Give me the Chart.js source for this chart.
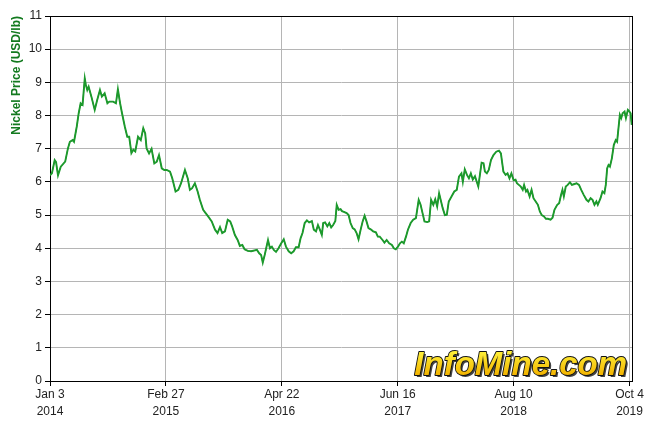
<!doctype html>
<html>

<head>
  <meta charset="utf-8">
  <style>
    body { margin: 0; background: #fff; }
  </style>
</head>

<body>
  <canvas id="nickelChart" width="652" height="433"></canvas>

  <script src="https://cdn.jsdelivr.net/npm/chart.js"></script>
  <script>
    // days after Jan 3 2014
    var days = [0, 7, 17, 22, 26, 29, 39, 55, 65, 72, 82, 87, 97, 104, 111, 118, 126, 130, 135, 140,
      150, 162, 171, 181, 188, 198, 208, 215, 222, 229, 239, 246, 254, 261, 271, 280, 287, 295, 302, 309,
      319, 329, 338, 345, 350, 359, 368, 378, 387, 395, 405, 414, 423, 435, 443, 455, 465, 475, 489, 499,
      507, 515, 525, 535, 543, 555, 564, 573, 586, 598, 607, 616, 624, 634, 644, 653, 660, 670, 680, 688,
      697, 705, 717, 729, 750, 758, 765, 771, 778, 782, 790, 797, 804, 811, 819, 828, 838, 847, 855, 865,
      874, 883, 891, 901, 908, 915, 923, 931, 939, 949, 956, 964, 971, 978, 985, 990, 997, 1005, 1012, 1019,
      1026, 1034, 1039, 1046, 1053, 1058, 1065, 1075, 1082, 1089, 1097, 1104, 1111, 1118, 1126, 1133, 1140, 1147, 1154, 1162,
      1171, 1181, 1188, 1195, 1205, 1212, 1220, 1229, 1239, 1246, 1253, 1261, 1268, 1275, 1282, 1290, 1297, 1307, 1316, 1326,
      1336, 1343, 1350, 1357, 1367, 1374, 1381, 1389, 1396, 1403, 1410, 1423, 1431, 1438, 1445, 1455, 1465, 1474, 1482, 1491,
      1496, 1503, 1511, 1518, 1525, 1532, 1540, 1547, 1552, 1557, 1564, 1571, 1576, 1583, 1590, 1598, 1607, 1617, 1627, 1634,
      1638, 1643, 1651, 1658, 1665, 1672, 1680, 1687, 1692, 1699, 1706, 1713, 1718, 1725, 1730, 1738, 1745, 1752, 1760, 1768,
      1775, 1782, 1790, 1797, 1804, 1814, 1821, 1828, 1838, 1845, 1852, 1857, 1862, 1869, 1876, 1884, 1891, 1898, 1908, 1917,
      1925, 1934, 1944, 1951, 1959, 1966, 1973, 1980, 1985, 1995, 2002, 2009, 2014, 2019, 2024, 2029, 2036, 2043, 2050, 2055,
      2060, 2065, 2070, 2075, 2082, 2087, 2094, 2098, 2104, 2108];

    // nickel price, USD/lb
    var prices = [6.20, 6.26, 6.66, 6.60, 6.36, 6.20, 6.46, 6.61, 7.01, 7.21, 7.26, 7.21, 7.67, 8.07, 8.37, 8.32, 9.12, 8.92, 8.77, 8.87,
      8.57, 8.17, 8.47, 8.77, 8.57, 8.67, 8.37, 8.42, 8.42, 8.42, 8.37, 8.79, 8.37, 8.07, 7.67, 7.36, 7.36, 6.87, 6.97, 6.92,
      7.36, 7.26, 7.62, 7.46, 7.01, 6.86, 7.00, 6.56, 6.61, 6.81, 6.41, 6.36, 6.36, 6.31, 6.11, 5.71, 5.76, 5.96, 6.36, 6.11,
      5.76, 5.81, 5.96, 5.71, 5.46, 5.16, 5.06, 4.96, 4.81, 4.56, 4.46, 4.64, 4.46, 4.51, 4.86, 4.81, 4.66, 4.40, 4.25, 4.07,
      4.10, 3.97, 3.92, 3.91, 3.95, 3.85, 3.80, 3.57, 3.80, 3.95, 4.25, 4.00, 4.05, 3.95, 3.89, 4.00, 4.15, 4.27, 4.05, 3.91,
      3.85, 3.91, 4.03, 4.03, 4.30, 4.46, 4.76, 4.84, 4.78, 4.82, 4.56, 4.51, 4.70, 4.56, 4.40, 4.76, 4.78, 4.66, 4.76, 4.63,
      4.70, 4.82, 5.31, 5.16, 5.18, 5.12, 5.10, 5.06, 5.00, 4.76, 4.61, 4.57, 4.46, 4.27, 4.57, 4.81, 4.98, 4.81, 4.61, 4.57,
      4.51, 4.48, 4.35, 4.35, 4.25, 4.17, 4.25, 4.15, 4.10, 4.00, 3.97, 4.05, 4.15, 4.20, 4.15, 4.35, 4.56, 4.76, 4.86, 4.91,
      5.46, 5.31, 5.06, 4.81, 4.79, 4.81, 5.46, 5.31, 5.48, 5.26, 5.66, 5.21, 5.00, 5.01, 5.41, 5.56, 5.71, 5.76, 6.16, 6.26,
      6.00, 6.38, 6.21, 6.11, 6.26, 6.07, 6.17, 5.99, 5.86, 6.16, 6.58, 6.56, 6.31, 6.26, 6.36, 6.66, 6.81, 6.91, 6.94, 6.86,
      6.61, 6.31, 6.21, 6.26, 6.11, 6.26, 6.05, 6.07, 5.96, 5.91, 5.86, 5.76, 5.91, 5.71, 5.76, 5.56, 5.76, 5.51, 5.41, 5.31,
      5.11, 5.00, 4.96, 4.89, 4.89, 4.86, 4.92, 5.16, 5.31, 5.36, 5.61, 5.76, 5.56, 5.86, 5.91, 5.99, 5.91, 5.93, 5.96, 5.91,
      5.76, 5.61, 5.46, 5.41, 5.51, 5.46, 5.31, 5.41, 5.31, 5.51, 5.71, 5.66, 5.91, 6.41, 6.51, 6.46, 6.71, 7.11, 7.26, 7.21,
      7.62, 8.02, 7.92, 8.07, 8.12, 7.92, 8.17, 8.14, 8.07, 7.72];

    var tickDays = [0, 420, 840, 1260, 1680, 2100];
    var tickLabels = [['Jan 3', '2014'], ['Feb 27', '2015'], ['Apr 22', '2016'], ['Jun 16', '2017'], ['Aug 10', '2018'], ['Oct 4', '2019']];

    var points = days.map(function (d, i) { return { x: d, y: prices[i] }; });

    Chart.defaults.font.family = '"Liberation Sans", Arial, sans-serif';
    Chart.defaults.font.size = 12;
    Chart.defaults.color = '#222';

    // black frame round the plot + watermark
    var frame = {
      id: 'frame',
      beforeDatasetsDraw: function (chart) {
        var a = chart.chartArea, c = chart.ctx;
        c.save();
        c.strokeStyle = '#000';
        c.lineWidth = 1;
        c.strokeRect(Math.round(a.left) + 0.5, Math.round(a.top) + 0.5, Math.round(a.right - a.left), Math.round(a.bottom - a.top));
        c.restore();
      },
      afterDatasetsDraw: function (chart) {
        var c = chart.ctx;
        c.save();
        c.font = 'italic bold 33px "Liberation Sans", Arial, sans-serif';
        c.textAlign = 'right';
        c.textBaseline = 'alphabetic';
        var x = 627, y = 375;
        c.fillStyle = '#444';
        c.fillText('InfoMine.com', x + 2, y + 2);
        c.lineWidth = 1.8;
        c.lineJoin = 'round';
        c.strokeStyle = '#111';
        c.strokeText('InfoMine.com', x, y);
        var g = c.createLinearGradient(0, y - 24, 0, y);
        g.addColorStop(0, '#fff23a');
        g.addColorStop(1, '#f2b300');
        c.fillStyle = g;
        c.fillText('InfoMine.com', x, y);
        c.restore();
      }
    };

    var ctx = document.getElementById('nickelChart').getContext('2d');
    var nickelChart = new Chart(ctx, {
      type: 'line',
      data: {
        datasets: [{
          data: points,
          borderColor: '#1c9a2c',
          borderWidth: 1.9,
          pointRadius: 0,
          tension: 0
        }, {
          data: points,
          borderColor: '#0a3a10',
          borderWidth: 0.8,
          pointRadius: 0,
          tension: 0
        }]
      },
      options: {
        responsive: false,
        animation: false,
        layout: { padding: { top: 16, right: 20, bottom: 0, left: 0 } },
        plugins: {
          legend: { display: false },
          tooltip: { enabled: false }
        },
        scales: {
          x: {
            type: 'linear',
            min: 0,
            max: 2109,
            afterFit: function (s) { s.height = 52; },
            afterBuildTicks: function (axis) {
              axis.ticks = tickDays.map(function (v) { return { value: v }; });
            },
            ticks: {
              autoSkip: false,
              maxRotation: 0,
              padding: 0,
              font: { size: 12, lineHeight: 1.4 },
              callback: function (v) {
                var i = tickDays.indexOf(v);
                return i >= 0 ? tickLabels[i] : '';
              }
            },
            grid: { color: '#b5b5b5', lineWidth: 1, tickLength: 5, tickColor: '#000' },
            border: { color: '#000', width: 1 }
          },
          y: {
            min: 0,
            max: 11,
            afterFit: function (s) { s.width = 50; },
            ticks: { stepSize: 1, padding: 3 },
            grid: { color: '#b5b5b5', lineWidth: 1, tickLength: 5, tickColor: '#000' },
            border: { color: '#000', width: 1 },
            title: {
              display: true,
              text: 'Nickel Price (USD/lb)',
              align: 'end',
              color: '#137a1f',
              font: { size: 12, weight: 'bold' },
              padding: { top: 9, bottom: 0 }
            }
          }
        }
      },
      plugins: [frame]
    });
  </script>
</body>

</html>
